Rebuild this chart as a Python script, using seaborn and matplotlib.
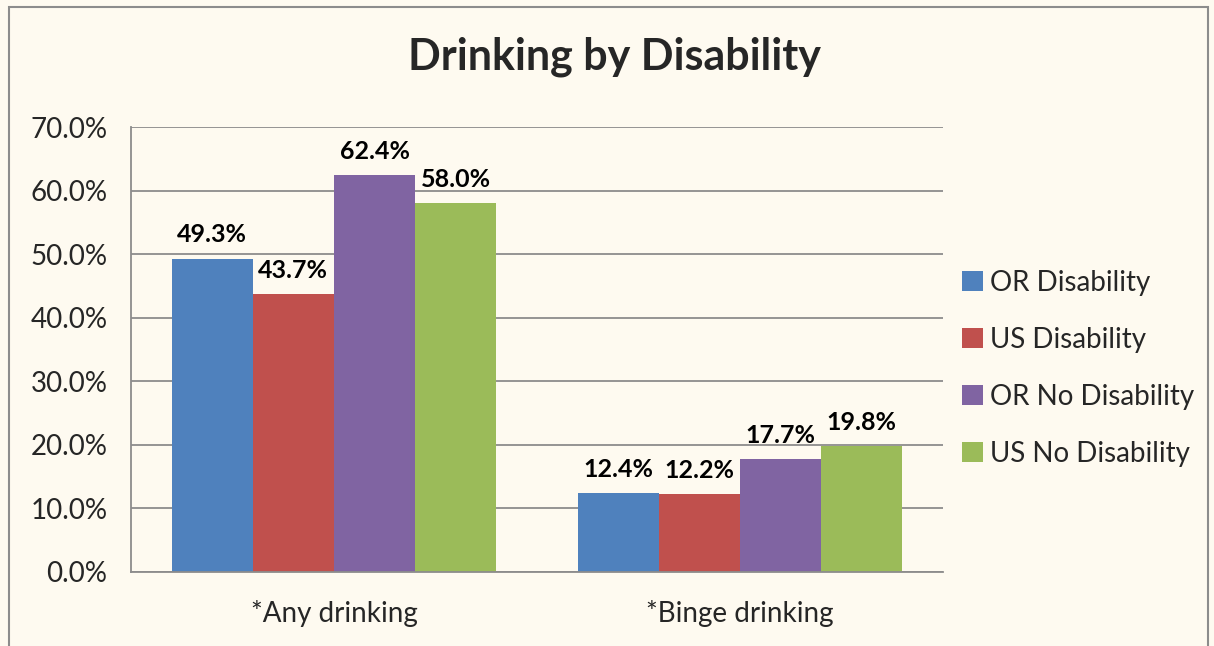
import matplotlib
matplotlib.use("Agg")
import matplotlib.pyplot as plt
import pandas as pd
import seaborn as sns
from matplotlib.patches import Rectangle

categories = ['*Any drinking', '*Binge drinking']
groups = ['OR Disability', 'US Disability', 'OR No Disability', 'US No Disability']
values = {
    'OR Disability': [49.3, 12.4],
    'US Disability': [43.7, 12.2],
    'OR No Disability': [62.4, 17.7],
    'US No Disability': [58.0, 19.8],
}
colors = ['#4F81BD', '#C0504D', '#8064A2', '#9BBB59']
bg = '#FEFAF0'

rows = []
for g in groups:
    for c, v in zip(categories, values[g]):
        rows.append({'Category': c, 'Group': g, 'Value': v})
df = pd.DataFrame(rows)

sns.set_style('white')
plt.rcParams['font.family'] = ['Lato', 'DejaVu Sans']

fig = plt.figure(figsize=(12.14, 6.46), dpi=100, facecolor=bg)
ax = fig.add_axes([131 / 1214, 74 / 646, 812 / 1214, 445 / 646])
ax.set_facecolor(bg)

sns.barplot(data=df, x='Category', y='Value', hue='Group', hue_order=groups,
            palette=colors, width=0.8, saturation=1, ax=ax, legend=True,
            edgecolor='none', linewidth=0)

# percent labels above each bar
for container in ax.containers:
    ax.bar_label(container, labels=[f'{v:.1f}%' for v in container.datavalues],
                 padding=9, fontsize=18, fontweight='bold', color='black')

ax.set_ylim(0, 70)
ax.set_xlim(-0.5, 1.5)
ax.set_yticks(range(0, 71, 10))
ax.set_yticklabels([f'{t:.1f}%' for t in range(0, 71, 10)])
ax.yaxis.grid(True, color='#8C8C8C', linewidth=1.3)
ax.set_axisbelow(True)
ax.tick_params(axis='y', length=9, color='#8C8C8C', width=1.3, labelsize=20, pad=8)
ax.tick_params(axis='x', length=0, labelsize=20, pad=20)
ax.set_xlabel('')
ax.set_ylabel('')
for s in ['top', 'right']:
    ax.spines[s].set_visible(False)
ax.spines['left'].set_color('#8C8C8C')
ax.spines['bottom'].set_color('#8C8C8C')
ax.spines['left'].set_linewidth(1.3)
ax.spines['bottom'].set_linewidth(1.3)

leg = ax.legend(loc='center left', bbox_to_anchor=(1.024, 0.458), frameon=False,
                fontsize=20, handlelength=0.75, handleheight=0.75, handletextpad=0.25,
                labelspacing=1.12, borderpad=0, borderaxespad=0)

fig.text(0.506, 0.912, 'Drinking by Disability', ha='center', va='center',
         fontsize=31, fontweight='bold')

# outer chart border
fig.patches.append(Rectangle((9 / 1214, -0.05), 1199 / 1214, 1.05 - 7 / 646,
                             transform=fig.transFigure, fill=False,
                             edgecolor='#8C8C8C', linewidth=1.5))

fig.savefig('out.png', dpi=100, facecolor=bg)
